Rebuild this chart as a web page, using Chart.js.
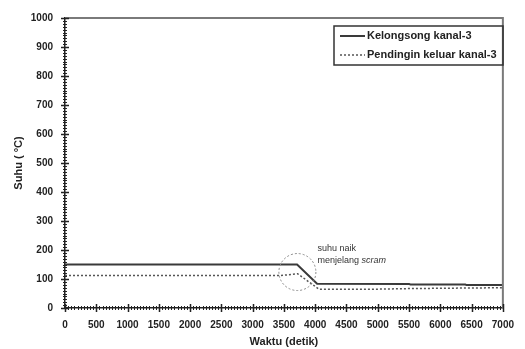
<!DOCTYPE html>
<html lang="id">
<head>
    <meta charset="utf-8">
    <script src="https://cdnjs.cloudflare.com/ajax/libs/Chart.js/4.4.1/chart.umd.min.js"></script>
    <title>Suhu kanal-3</title>
    <style>
        html, body { margin: 0; padding: 0; background: #fff; }
        #myChart { display: block; }
    </style>
</head>
<body>
<canvas id="myChart" width="525" height="349"></canvas>
</body>
<script>
    const seriesNames = ["Kelongsong kanal-3", "Pendingin keluar kanal-3"];
    // Kelongsong (solid)
    const cladTime = [0, 3710, 4030, 5500, 5520, 6400, 6420, 7000];
    const cladTemp = [150, 150, 84, 83, 81, 81, 79, 79];
    // Pendingin keluar (dotted)
    const coolTime = [0, 3450, 3720, 4060, 5000, 5500, 6500, 7000];
    const coolTemp = [112, 112, 118, 65, 65, 67, 69, 70];
    const xTicks = [0, 500, 1000, 1500, 2000, 2500, 3000, 3500, 4000, 4500, 5000, 5500, 6000, 6500, 7000];
    const yTicks = [0, 100, 200, 300, 400, 500, 600, 700, 800, 900, 1000];
    const noteLines = ["suhu naik", "menjelang "];
    const noteItalic = "scram";

    const FONT = "'Liberation Sans', Arial, sans-serif";

    function toPoints(xs, ys) {
        return xs.map((x, i) => ({x: x, y: ys[i]}));
    }

    // ticks, frame, legend and note
    const extras = {
        id: "extras",
        afterDraw(chart) {
            const ctx = chart.ctx;
            const xs = chart.scales.x, ys = chart.scales.y;
            const a = chart.chartArea;
            ctx.save();

            // top and right frame
            ctx.strokeStyle = "#7a7a7a";
            ctx.lineWidth = 2;
            ctx.beginPath();
            ctx.moveTo(a.left, a.top);
            ctx.lineTo(a.right, a.top);
            ctx.lineTo(a.right, a.bottom);
            ctx.stroke();

            // minor + major ticks
            ctx.strokeStyle = "#222";
            ctx.lineWidth = 1;
            ctx.beginPath();
            for (let v = 0; v <= 1000; v += 10) {
                const y = Math.round(ys.getPixelForValue(v)) + 0.5;
                ctx.moveTo(a.left - 2, y);
                ctx.lineTo(a.left + 2, y);
            }
            for (let v = 0; v <= 7000; v += 50) {
                const x = Math.round(xs.getPixelForValue(v)) + 0.5;
                ctx.moveTo(x, a.bottom - 2);
                ctx.lineTo(x, a.bottom + 2);
            }
            ctx.stroke();
            ctx.lineWidth = 1.5;
            ctx.beginPath();
            yTicks.forEach(v => {
                const y = Math.round(ys.getPixelForValue(v)) + 0.5;
                ctx.moveTo(a.left - 4, y);
                ctx.lineTo(a.left + 4, y);
            });
            xTicks.forEach(v => {
                const x = Math.round(xs.getPixelForValue(v)) + 0.5;
                ctx.moveTo(x, a.bottom - 4);
                ctx.lineTo(x, a.bottom + 4);
            });
            ctx.stroke();

            // circle round the rise before scram
            const cx = xs.getPixelForValue(3715), cy = ys.getPixelForValue(124);
            ctx.strokeStyle = "#888";
            ctx.lineWidth = 1;
            ctx.setLineDash([2, 2]);
            ctx.beginPath();
            ctx.arc(cx, cy, 18.5, 0, Math.PI * 2);
            ctx.stroke();
            ctx.setLineDash([]);

            // note text
            ctx.fillStyle = "#333";
            ctx.textBaseline = "middle";
            ctx.textAlign = "left";
            ctx.font = "9px " + FONT;
            const tx = cx + 20;
            ctx.fillText(noteLines[0], tx, cy - 24);
            ctx.fillText(noteLines[1], tx, cy - 12);
            const w = ctx.measureText(noteLines[1]).width;
            ctx.font = "italic 9px " + FONT;
            ctx.fillText(noteItalic, tx + w, cy - 12);

            // legend
            const lx = 334, ly = 26, lw = 169, lh = 39;
            ctx.strokeStyle = "#333";
            ctx.lineWidth = 1.5;
            ctx.strokeRect(lx, ly, lw, lh);
            chart.data.datasets.forEach((ds, i) => {
                const y = ly + 10 + i * 19;
                ctx.strokeStyle = ds.borderColor;
                ctx.lineWidth = ds.borderWidth;
                ctx.setLineDash(ds.borderDash || []);
                ctx.beginPath();
                ctx.moveTo(lx + 6, y);
                ctx.lineTo(lx + 31, y);
                ctx.stroke();
                ctx.setLineDash([]);
                ctx.fillStyle = "#222";
                ctx.font = "bold 11px " + FONT;
                ctx.fillText(ds.label, lx + 33, y);
            });
            ctx.restore();
        }
    };

    const chart = new Chart("myChart", {
        type: "line",
        data: {
            datasets: [{
                label: seriesNames[0],
                data: toPoints(cladTime, cladTemp),
                borderColor: "#3a3a3a",
                borderWidth: 2,
                pointRadius: 0,
                tension: 0
            }, {
                label: seriesNames[1],
                data: toPoints(coolTime, coolTemp),
                borderColor: "#555",
                borderWidth: 1.5,
                borderDash: [2, 2],
                pointRadius: 0,
                tension: 0
            }]
        },
        options: {
            responsive: false,
            animation: false,
            layout: {padding: {top: 13, right: 11, left: 0, bottom: 0}},
            plugins: {legend: {display: false}, tooltip: {enabled: false}},
            scales: {
                x: {
                    type: "linear",
                    min: 0,
                    max: 7000,
                    afterBuildTicks: s => { s.ticks = xTicks.map(v => ({value: v})); },
                    afterFit: s => { s.height = 41; },
                    grid: {display: false, drawTicks: false},
                    border: {display: true, color: "#222", width: 1.5},
                    ticks: {
                        padding: 11,
                        maxRotation: 0,
                        autoSkip: false,
                        color: "#222",
                        callback: v => String(v),
                        font: {family: FONT, size: 10, weight: "bold"}
                    },
                    title: {
                        display: true,
                        text: "Waktu (detik)",
                        color: "#222",
                        padding: {top: 0, bottom: 0},
                        font: {family: FONT, size: 11, weight: "bold"}
                    }
                },
                y: {
                    min: 0,
                    max: 1000,
                    afterBuildTicks: s => { s.ticks = yTicks.map(v => ({value: v})); },
                    afterFit: s => { s.width = 65; },
                    grid: {display: false, drawTicks: false},
                    border: {display: true, color: "#222", width: 1.5},
                    ticks: {
                        padding: 12,
                        color: "#222",
                        callback: v => String(v),
                        font: {family: FONT, size: 10, weight: "bold"}
                    },
                    title: {
                        display: true,
                        text: "Suhu ( °C)",
                        color: "#222",
                        padding: {top: 12, bottom: 0},
                        font: {family: FONT, size: 11, weight: "bold"}
                    }
                }
            }
        },
        plugins: [extras]
    });
</script>
</html>
